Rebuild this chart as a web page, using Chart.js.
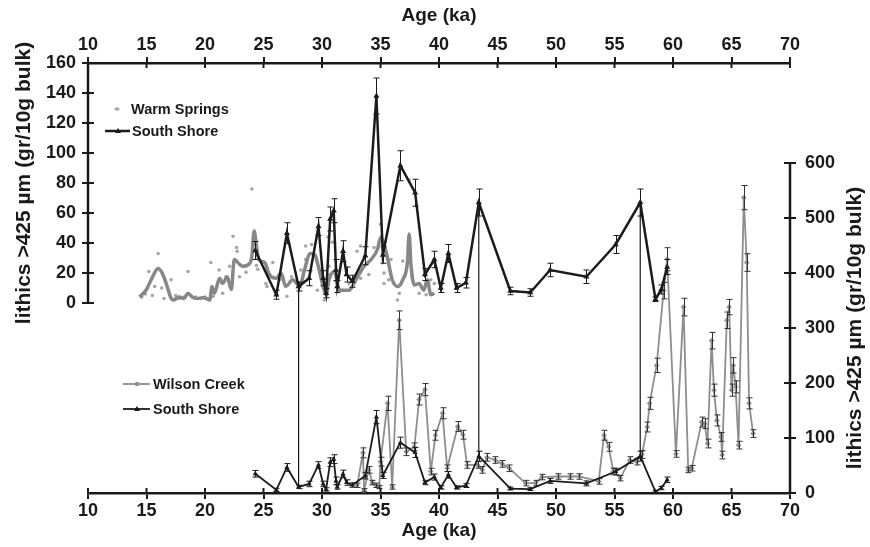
<!DOCTYPE html>
<html><head><meta charset="utf-8">
<script src="https://cdn.jsdelivr.net/npm/chart.js@4.4.0/dist/chart.umd.min.js"></script>
<style>html,body{margin:0;padding:0;background:#fff;}#wrap{width:870px;height:547px;position:relative;}</style>
</head><body><div id="wrap"><canvas id="c" width="870" height="547"></canvas></div>
<script>
// ---- tick labels ----
const xTicks = [10,15,20,25,30,35,40,45,50,55,60,65,70];
const leftTicks = [0,20,40,60,80,100,120,140,160];
const rightTicks = [0,100,200,300,400,500,600];

// ---- South Shore (gr/10g bulk) ----
const ssAge = [24.3,26.1,27.0,28.0,28.9,29.7,30.1,30.35,30.7,31.0,31.2,31.3,31.8,32.1,32.6,33.7,34.65,35.2,36.7,37.96,38.8,39.6,40.15,40.8,41.5,42.3,43.4,46.1,47.8,49.5,52.6,55.1,57.2,58.5,59.0,59.5];
const ssVal = [35,5.5,46.5,11,16.5,51,16.5,6.5,56,61.5,22,11,34.5,19,14.5,31.5,138,32,91.5,73.5,19,29,10,33,10,13.5,67,8,7,22,17.5,39,67,2.5,9,24];
const ssErr = [6,3,7,3,5,6,5,3,8,8,7,4,7,5,4,6,12,5.5,10,9,4,5.5,3,6,3,3.5,9,2.5,2.5,4.5,4.5,6,9,1.5,3,5];

// ---- Warm Springs raw points ----
const wsAge = [14.6,14.9,15.2,15.5,15.7,16.0,16.3,16.5,17.1,17.5,17.8,18.2,18.55,18.8,19.2,19.6,20.0,20.5,20.7,21.2,21.5,21.8,22.1,22.4,22.7,22.75,22.95,23.5,24.0,24.3,24.4,24.5,25.2,25.3,25.8,26.4,27.0,27.4,28.2,28.6,28.6,29.1,29.6,30.2,30.4,30.5,30.6,30.65,30.9,31.2,31.35,32.3,32.6,33.0,33.3,33.3,34.0,34.45,35.0,35.1,35.2,35.3,35.3,35.7,35.9,36.45,36.6,36.9,37.45,37.7,38.3,38.9,39.3,39.6,39.6];
const wsVal = [4,6,21,5,11,33,10,3,15.5,5,3,4,21,5,4,3,4,27,4.5,22,6.5,17.5,24.5,44.5,37,34.5,17.5,20.5,76,34.5,25,22.5,13,11,27,15.5,4.5,17.5,22,38,29,39,8.5,2,5.5,44,24.5,19,40.5,14.5,10,13,15.5,34.5,16.5,38,19,37,52.5,44.5,41.5,20,13,15.5,29,2,6.5,28,82,17.5,6.5,5.5,15.5,27,13];

// ---- Warm Springs smoothed curve ----
const wsSmoothAge = [14.4,15.0,15.4,16.0,16.4,16.85,17.05,17.3,17.8,18.2,18.55,18.9,19.3,19.8,20.1,20.4,20.6,20.8,21.25,21.5,21.9,22.25,22.5,22.8,23.2,23.7,24.0,24.2,24.4,24.6,25.1,25.5,26.1,26.5,26.9,27.5,28.1,28.5,29.0,29.4,29.6,30.1,30.35,30.6,31.05,31.5,32.3,32.9,33.6,34.2,34.75,35.0,35.5,36.0,36.5,36.9,37.3,37.45,37.6,37.9,38.3,38.7,39.0,39.3,39.6];
const wsSmoothVal = [4,9,15.5,23,19,9,4,2,4,3,6.5,4,3,3.5,3,2,11,6.5,16.5,13,17.5,9,29,27,24.5,25.5,31,48,38,29,27,19,16.5,20,11,15.5,11,22,33,32,27,11,5.5,15.5,21,8.5,8.5,15.5,24.5,29,36,43.5,33.5,15.5,11,15.5,27,46,26,12,13,8.5,15.5,5.5,6.5];

// ---- Wilson Creek (right axis) ----
const wcAge = [33.0,33.5,33.6,34.0,34.3,34.6,34.9,35.0,35.6,36.0,36.6,37.2,37.9,38.3,38.8,39.3,39.7,40.3,40.7,41.6,42.05,42.4,43.3,43.7,44.1,44.8,45.4,46.0,47.4,48.25,48.8,50.2,51.2,52.0,53.65,54.1,54.5,54.9,55.5,56.3,56.9,57.35,57.8,58.0,58.6,59.2,59.5,60.25,60.9,61.3,61.6,62.45,62.7,62.95,63.3,63.5,63.75,64.1,64.2,64.6,64.8,65.0,65.15,65.35,65.6,66.05,66.3,66.5,66.85];
const wcVal = [14,73,5,42,19,14,11,57,163,11,314,75,84,170,188,39,105,145,45,121,106,51,51,42,65,60,53,45,18,18,29,30,30,30,21,105,84,39,27,60,57,70,120,163,232,368,425,71,338,42,45,129,126,90,277,187,132,102,69,314,338,187,232,193,87,537,419,163,108];
const wcErr = [4,9,3,6,4,4,3,8,13,4,17,7,7,10,11,6,9,10,6,9,8,6,6,6,7,6,6,6,5,5,5,5,5,5,5,9,8,6,5,6,6,7,9,11,13,15,21,6,16,5,5,9,9,8,15,11,10,8,7,15,14,11,14,11,7,22,16,10,7];

// ages where the two South Shore records are tied together
const tieAges = [28.0, 43.4, 57.2];

const yTitle = 'lithics >425 µm (gr/10g bulk)';
const xTitle = 'Age (ka)';

const FONT = '"Liberation Sans", Arial, Helvetica, sans-serif';
const INK = '#1a1a1a';
const pts = (a, v) => a.map((x, i) => ({x: x, y: v[i]}));

const errorBars = {
  id: 'errorBars',
  afterDatasetDraw(chart, args) {
    const ds = chart.data.datasets[args.index];
    if (!ds.errors) return;
    const meta = args.meta;
    const ys = chart.scales[meta.yAxisID];
    const ctx = chart.ctx;
    ctx.save();
    ctx.strokeStyle = ds.errColor;
    ctx.lineWidth = 1;
    meta.data.forEach((p, i) => {
      const v = ds.data[i].y, e = ds.errors[i];
      const x = Math.round(p.x) + 0.5;
      const y1 = ys.getPixelForValue(v + e), y2 = ys.getPixelForValue(v - e);
      ctx.beginPath();
      ctx.moveTo(x, y1); ctx.lineTo(x, y2);
      ctx.moveTo(x - 3, y1); ctx.lineTo(x + 3, y1);
      ctx.moveTo(x - 3, y2); ctx.lineTo(x + 3, y2);
      ctx.stroke();
    });
    ctx.restore();
  }
};

const decor = {
  id: 'decor',
  afterDatasetsDraw(chart) {
    const ctx = chart.ctx, xs = chart.scales.x, yL = chart.scales.yL, yR = chart.scales.yR;
    ctx.save();
    ctx.strokeStyle = INK; ctx.lineWidth = 1.2;
    tieAges.forEach(a => {
      const i = ssAge.indexOf(a);
      const x = xs.getPixelForValue(a);
      ctx.beginPath();
      ctx.moveTo(x, yL.getPixelForValue(ssVal[i]));
      ctx.lineTo(x, yR.getPixelForValue(ssVal[i]));
      ctx.stroke();
    });
    ctx.restore();
  },
  afterDraw(chart) {
    const ctx = chart.ctx, ca = chart.chartArea;
    const xs = chart.scales.x, x2 = chart.scales.x2, yL = chart.scales.yL, yR = chart.scales.yR;
    ctx.save();
    ctx.strokeStyle = INK; ctx.lineCap = 'butt';
    ctx.lineWidth = 2.5;
    ctx.beginPath();
    ctx.moveTo(ca.left, yL.getPixelForValue(leftTicks[leftTicks.length - 1]) - 1);
    ctx.lineTo(ca.left, yL.getPixelForValue(leftTicks[0]));
    ctx.moveTo(ca.right, yR.getPixelForValue(rightTicks[rightTicks.length - 1]));
    ctx.lineTo(ca.right, yR.getPixelForValue(rightTicks[0]) + 1);
    ctx.stroke();
    ctx.lineWidth = 2;
    ctx.beginPath();
    xTicks.forEach(v => {
      const px = xs.getPixelForValue(v);
      ctx.moveTo(px, ca.bottom); ctx.lineTo(px, ca.bottom - 5);
      const qx = x2.getPixelForValue(v);
      ctx.moveTo(qx, ca.top); ctx.lineTo(qx, ca.top + 5);
    });
    leftTicks.forEach(v => { const py = yL.getPixelForValue(v); ctx.moveTo(ca.left, py); ctx.lineTo(ca.left + 6, py); });
    rightTicks.forEach(v => { const py = yR.getPixelForValue(v); ctx.moveTo(ca.right, py); ctx.lineTo(ca.right - 6, py); });
    ctx.stroke();
    ctx.fillStyle = INK;
    ctx.font = 'bold 21px ' + FONT;
    ctx.textAlign = 'center'; ctx.textBaseline = 'middle';
    const lc = (yL.getPixelForValue(leftTicks[0]) + yL.getPixelForValue(leftTicks[leftTicks.length - 1])) / 2;
    const rc = (yR.getPixelForValue(rightTicks[0]) + yR.getPixelForValue(rightTicks[rightTicks.length - 1])) / 2;
    ctx.save(); ctx.translate(24, lc); ctx.rotate(-Math.PI / 2); ctx.fillText(yTitle, 0, 0); ctx.restore();
    ctx.save(); ctx.translate(855, rc); ctx.rotate(-Math.PI / 2); ctx.fillText(yTitle, 0, 0); ctx.restore();
    ctx.font = 'bold 14.5px ' + FONT;
    ctx.textAlign = 'left';
    const ds = chart.data.datasets;
    ctx.fillStyle = ds[0].pointBackgroundColor;
    ctx.beginPath(); ctx.ellipse(117, 109, 2.6, 1.8, 0, 0, Math.PI * 2); ctx.fill();
    ctx.fillStyle = INK; ctx.fillText(ds[0].label, 131, 110);
    ctx.strokeStyle = ds[2].borderColor; ctx.lineWidth = 2.5;
    ctx.beginPath(); ctx.moveTo(105, 131); ctx.lineTo(130, 131); ctx.stroke();
    ctx.fillStyle = ds[2].borderColor; ctx.beginPath();
    ctx.moveTo(118, 128); ctx.lineTo(121, 133); ctx.lineTo(115, 133); ctx.closePath(); ctx.fill();
    ctx.fillStyle = INK; ctx.fillText(ds[2].label, 132, 132);
    ctx.strokeStyle = ds[3].borderColor; ctx.lineWidth = 1.8;
    ctx.beginPath(); ctx.moveTo(123, 384); ctx.lineTo(150, 384); ctx.stroke();
    ctx.fillStyle = ds[3].borderColor; ctx.beginPath(); ctx.arc(137, 384, 2.2, 0, Math.PI * 2); ctx.fill();
    ctx.fillStyle = INK; ctx.fillText(ds[3].label, 153, 385);
    ctx.strokeStyle = ds[4].borderColor; ctx.lineWidth = 1.8;
    ctx.beginPath(); ctx.moveTo(123, 409); ctx.lineTo(150, 409); ctx.stroke();
    ctx.fillStyle = ds[4].borderColor; ctx.beginPath();
    ctx.moveTo(137, 406); ctx.lineTo(140, 411); ctx.lineTo(134, 411); ctx.closePath(); ctx.fill();
    ctx.fillStyle = INK; ctx.fillText(ds[4].label, 153, 410);
    ctx.restore();
  }
};

const tickFont = {family: FONT, size: 18, weight: 'bold'};
const titleFont = {family: FONT, size: 19, weight: 'bold'};
const setTicks = arr => s => { s.ticks = arr.map(v => ({value: v})); };

new Chart(document.getElementById('c'), {
  type: 'line',
  data: {
    datasets: [
      { label: 'Warm Springs', data: pts(wsAge, wsVal), xAxisID: 'x', yAxisID: 'yL', showLine: false,
        pointRadius: 1.8, pointBorderWidth: 0, pointBackgroundColor: '#a6a6a6', order: 6 },
      { label: 'Warm Springs smooth', data: pts(wsSmoothAge, wsSmoothVal), xAxisID: 'x', yAxisID: 'yL',
        borderColor: '#878787', borderWidth: 3.5, pointRadius: 0, cubicInterpolationMode: 'monotone', order: 5 },
      { label: 'South Shore', data: pts(ssAge, ssVal), xAxisID: 'x', yAxisID: 'yL',
        borderColor: '#1b1b1b', borderWidth: 2.5, pointStyle: 'triangle', pointRadius: 3.5, pointBorderWidth: 0,
        pointBackgroundColor: '#1b1b1b', errors: ssErr, errColor: '#1b1b1b', order: 1 },
      { label: 'Wilson Creek', data: pts(wcAge, wcVal), xAxisID: 'x', yAxisID: 'yR',
        borderColor: '#8e8e8e', borderWidth: 1.8, pointStyle: 'rectRot', pointRadius: 2.8, pointBorderWidth: 0,
        pointBackgroundColor: '#8e8e8e', errors: wcErr, errColor: '#333333', order: 3 },
      { label: 'South Shore', data: pts(ssAge, ssVal), xAxisID: 'x', yAxisID: 'yR',
        borderColor: '#1b1b1b', borderWidth: 1.8, pointStyle: 'triangle', pointRadius: 3, pointBorderWidth: 0,
        pointBackgroundColor: '#1b1b1b', errors: ssErr, errColor: '#1b1b1b', order: 2 }
    ]
  },
  options: {
    responsive: false, animation: false, devicePixelRatio: 1,
    layout: {padding: 0},
    plugins: {legend: {display: false}, tooltip: {enabled: false}},
    scales: {
      x: { type: 'linear', position: 'bottom', min: 10, max: 70,
        afterBuildTicks: setTicks(xTicks), afterFit: s => { s.height = 54; },
        ticks: {font: tickFont, color: INK, padding: 1, maxRotation: 0, autoSkip: false},
        grid: {drawOnChartArea: false, color: INK, lineWidth: 2, tickLength: 6},
        border: {display: true, color: INK, width: 2.5},
        title: {display: true, text: xTitle, font: titleFont, color: INK, padding: {top: 0, bottom: 5}} },
      x2: { type: 'linear', position: 'top', min: 10, max: 70,
        afterBuildTicks: setTicks(xTicks), afterFit: s => { s.height = 63; },
        ticks: {font: tickFont, color: INK, padding: 1, maxRotation: 0, autoSkip: false},
        grid: {drawOnChartArea: false, color: INK, lineWidth: 2, tickLength: 6},
        border: {display: true, color: INK, width: 2.5},
        title: {display: true, text: xTitle, font: titleFont, color: INK, padding: {top: 4, bottom: 0}} },
      yL: { type: 'linear', position: 'left', min: -126.67, max: 160,
        afterBuildTicks: setTicks(leftTicks), afterFit: s => { s.width = 88; },
        ticks: {font: tickFont, color: INK, padding: 6},
        grid: {drawOnChartArea: false, color: INK, lineWidth: 2, tickLength: 6},
        border: {display: false} },
      yR: { type: 'linear', position: 'right', min: 0, max: 781.8,
        afterBuildTicks: setTicks(rightTicks), afterFit: s => { s.width = 80; },
        ticks: {font: tickFont, color: INK, padding: 9},
        grid: {drawOnChartArea: false, color: INK, lineWidth: 2, tickLength: 6},
        border: {display: false} }
    }
  },
  plugins: [errorBars, decor]
});
</script></body></html>
